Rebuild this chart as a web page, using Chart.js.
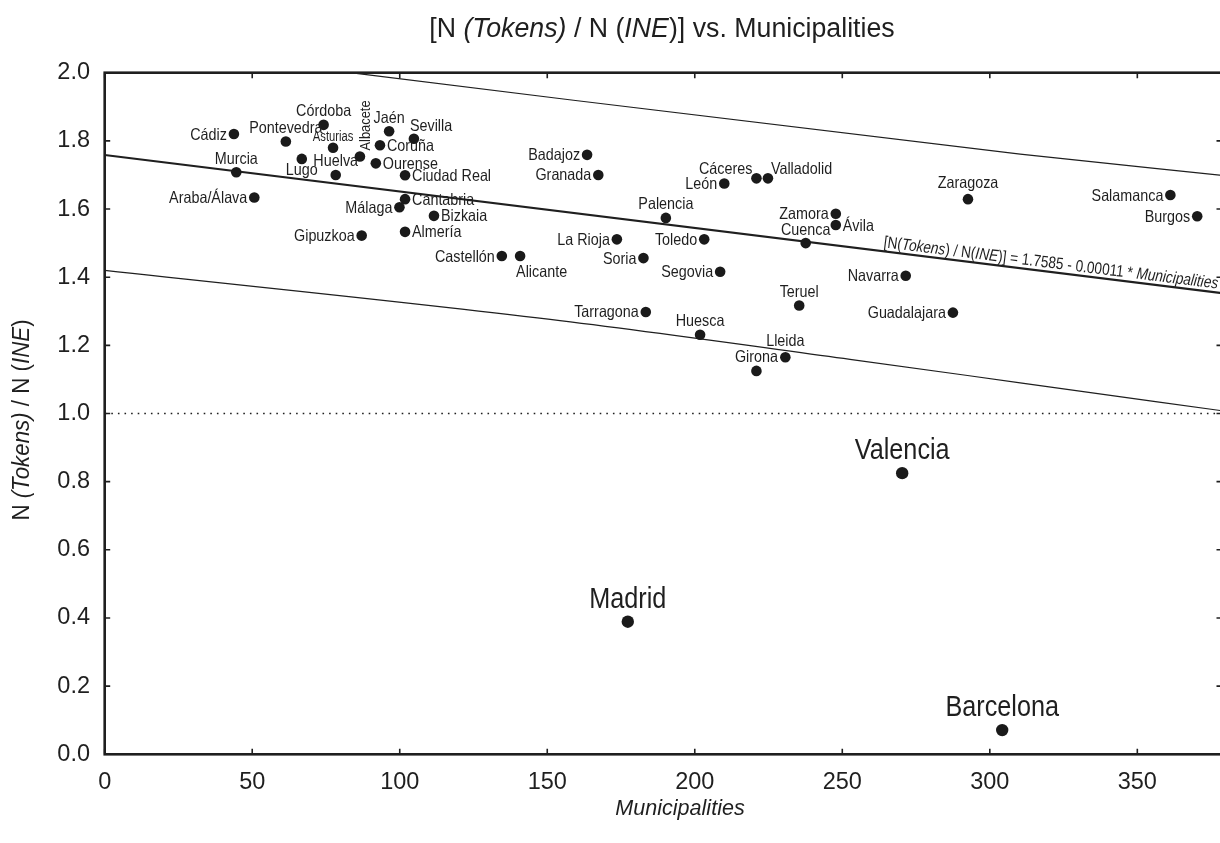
<!DOCTYPE html>
<html><head><meta charset="utf-8">
<script src="https://cdn.jsdelivr.net/npm/chart.js@4.4.1/dist/chart.umd.min.js"></script>
<style>
html,body{margin:0;padding:0;background:#fff;overflow:hidden;}
#wrap{width:1220px;height:843px;overflow:hidden;position:relative;background:#fff;}
canvas{display:block;}
</style></head><body>
<div id="wrap"><canvas id="c" width="1232" height="843"></canvas></div>
<script>
// ---------------- data ----------------
const provinces = ['Cádiz','Córdoba','Pontevedra','Asturias','Albacete','Jaén','Sevilla','Coruña','Ourense','Murcia','Lugo','Huelva','Ciudad Real','Araba/Álava','Cantabria','Málaga','Bizkaia','Almería','Gipuzkoa','Badajoz','Granada','León','Cáceres','Valladolid','Palencia','La Rioja','Toledo','Castellón','Alicante','Soria','Segovia','Tarragona','Zaragoza','Salamanca','Burgos','Zamora','Ávila','Cuenca','Navarra','Teruel','Guadalajara','Huesca','Lleida','Girona','Madrid','Valencia','Barcelona'];
const municipalities = [43.8,74.2,61.4,77.4,86.5,96.4,104.8,93.3,91.9,44.6,66.8,78.3,101.8,50.7,101.8,99.9,111.6,101.8,87.1,163.5,167.3,210.0,220.9,224.8,190.2,173.6,203.2,134.6,140.8,182.6,208.6,183.4,292.6,361.2,370.3,247.8,247.8,237.6,271.5,235.4,287.5,201.8,230.7,220.9,177.3,270.3,304.2];
const ratio = [1.820,1.847,1.798,1.780,1.754,1.828,1.806,1.787,1.734,1.708,1.747,1.700,1.699,1.634,1.629,1.605,1.580,1.533,1.522,1.759,1.700,1.675,1.690,1.690,1.574,1.511,1.511,1.462,1.462,1.456,1.416,1.298,1.629,1.641,1.579,1.586,1.553,1.500,1.404,1.317,1.296,1.231,1.165,1.125,0.389,0.825,0.071];
const labelPlace = ['L','T','T','Ts','V','T','TR','R','R','T','B','T','R','L','R','L','R','R','L','L','L','L','TL','TRc','T','L','L','L','BR','L','L','L','Th','L','L','L','R','T','L','T','L','T','Th','T','T','T','T'];
const bigCities = ['Madrid','Valencia','Barcelona'];

// regression line and band
const fitX = [0, 378.7];
const fitY = [1.7585, 1.353];
const upperBandX = [83.2, 310.3, 378.7];
const upperBandY = [2.0, 1.761, 1.699];
const lowerBandX = [0, 151, 252.6, 310.3, 378.7];
const lowerBandY = [1.420, 1.276, 1.159, 1.090, 1.008];
const refX = [0, 378.7];
const refY = [1.0, 1.0];

const xMin = 0, xMax = 378.7, xStep = 50;
const yMin = 0, yMax = 2.0, yStep = 0.2;

const titleParts = [['[N ', false], ['(Tokens)', true], [' / N (', false], ['INE', true], [')] vs. Municipalities', false]];
const yTitleParts = [['N ', false], ['(Tokens)', true], [' / N (', false], ['INE', true], [')', false]];
const xTitleText = 'Municipalities';
const eqParts = [['[N(', false], ['Tokens', true], [') / N(', false], ['INE', true], [')] = 1.7585 - 0.00011 * ', false], ['Municipalities', true]];

// ---------------- helpers ----------------
const FONT = "'Liberation Sans', Arial, Helvetica, sans-serif";
const INK = '#1f1f1f';
function fontStr(size, italic){ return (italic ? 'italic ' : '') + size + 'px ' + FONT; }
function richText(ctx, segs, x, y, o){
  ctx.save();
  ctx.translate(x, y);
  if (o.rotate) ctx.rotate(o.rotate);
  ctx.scale(o.scaleX || 1, 1);
  ctx.textBaseline = o.baseline || 'middle';
  ctx.textAlign = 'left';
  ctx.fillStyle = o.color || INK;
  const ws = []; let total = 0;
  segs.forEach(s => { ctx.font = fontStr(o.size, s[1]); const w = ctx.measureText(s[0]).width; ws.push(w); total += w; });
  let cx = o.align === 'center' ? -total/2 : (o.align === 'right' ? -total : 0);
  segs.forEach((s, i) => { ctx.font = fontStr(o.size, s[1]); ctx.fillText(s[0], cx, 0); cx += ws[i]; });
  ctx.restore();
}

const PLACE = {
  L:   {dx:-7,  dy:1,    align:'right'},
  R:   {dx:7,   dy:1,    align:'left'},
  T:   {dx:0,   dy:-13,  align:'center'},
  Th:  {dx:0,   dy:-16,  align:'center'},
  B:   {dx:0,   dy:12,   align:'center'},
  TR:  {dx:-4,  dy:-12.5,align:'left'},
  TRc: {dx:3,   dy:-9,   align:'left'},
  TL:  {dx:-4,  dy:-9,   align:'right'},
  BR:  {dx:-4,  dy:16,   align:'left'},
  Ts:  {dx:0,   dy:-11,  align:'center', size:14, sx:0.8},
  V:   {dx:6.5, dy:-6,   align:'left', size:14, sx:0.92, rotate:-Math.PI/2}
};

const decorPlugin = {
  id: 'decor',
  afterDatasetsDraw(chart){
    const ctx = chart.ctx, a = chart.chartArea, xs = chart.scales.x, ys = chart.scales.y;
    ctx.save();
    ctx.strokeStyle = INK; ctx.lineWidth = 2.6;
    ctx.strokeRect(a.left, a.top, a.right - a.left, a.bottom - a.top);
    ctx.lineWidth = 1.6;
    ctx.beginPath();
    xs.ticks.forEach(t => { const px = xs.getPixelForValue(t.value);
      ctx.moveTo(px, a.bottom); ctx.lineTo(px, a.bottom - 5.5);
      ctx.moveTo(px, a.top); ctx.lineTo(px, a.top + 5.5); });
    ys.ticks.forEach(t => { const py = ys.getPixelForValue(t.value);
      ctx.moveTo(a.left, py); ctx.lineTo(a.left + 5.5, py);
      ctx.moveTo(a.right, py); ctx.lineTo(a.right - 5.5, py); });
    ctx.stroke();
    ctx.restore();

    const meta = chart.getDatasetMeta(0);
    meta.data.forEach((el, i) => {
      const name = provinces[i];
      const p = PLACE[labelPlace[i]];
      const big = bigCities.includes(name);
      const size = big ? 29 : (p.size || 16.5);
      const sx = big ? 0.87 : (p.sx || 0.87);
      const dy = big ? -22 : p.dy;
      richText(ctx, [[name, false]], el.x + p.dx, el.y + dy, {size, scaleX: sx, align: p.align, rotate: p.rotate});
    });

    const endPx = 1217;
    const vEnd = xs.getValueForPixel(endPx);
    const t = (vEnd - fitX[0]) / (fitX[1] - fitX[0]);
    const yEnd = ys.getPixelForValue(fitY[0] + t * (fitY[1] - fitY[0]));
    const p0x = xs.getPixelForValue(fitX[0]), p0y = ys.getPixelForValue(fitY[0]);
    const p1x = xs.getPixelForValue(fitX[1]), p1y = ys.getPixelForValue(fitY[1]);
    const ang = Math.atan2(p1y - p0y, p1x - p0x);
    ctx.save();
    ctx.translate(endPx, yEnd);
    ctx.rotate(ang);
    richText(ctx, eqParts, 0, -4, {size: 16.5, scaleX: 0.83, align: 'right', baseline: 'alphabetic'});
    ctx.restore();

    richText(ctx, titleParts, 662, 29.5, {size: 27, scaleX: 0.99, align: 'center'});
    richText(ctx, yTitleParts, 23, 420, {size: 23, scaleX: 0.97, align: 'center', rotate: -Math.PI/2});
    richText(ctx, [[xTitleText, true]], 680, 809, {size: 22, scaleX: 0.98, align: 'center'});
  }
};

const pts = municipalities.map((m, i) => ({x: m, y: ratio[i]}));
const toXY = (xs, ys) => xs.map((v, i) => ({x: v, y: ys[i]}));

new Chart(document.getElementById('c'), {
  type: 'scatter',
  data: {
    datasets: [
      { label: 'Provinces', data: pts,
        pointRadius: provinces.map(n => bigCities.includes(n) ? 6.2 : 5.3),
        pointBackgroundColor: '#1a1a1a', pointBorderWidth: 0, clip: false },
      { type: 'line', label: 'fit', data: toXY(fitX, fitY), borderColor: INK, borderWidth: 2.2, pointRadius: 0, fill: false },
      { type: 'line', label: 'upper', data: toXY(upperBandX, upperBandY), borderColor: INK, borderWidth: 1.2, pointRadius: 0, fill: false, cubicInterpolationMode: 'monotone' },
      { type: 'line', label: 'lower', data: toXY(lowerBandX, lowerBandY), borderColor: INK, borderWidth: 1.2, pointRadius: 0, fill: false, cubicInterpolationMode: 'monotone' },
      { type: 'line', label: 'ref', data: toXY(refX, refY), borderColor: INK, borderWidth: 1.6, borderDash: [1.6, 5], pointRadius: 0, fill: false }
    ]
  },
  options: {
    responsive: false,
    animation: false,
    devicePixelRatio: 1,
    events: [],
    layout: { padding: { top: 72.7, right: 10, left: 0, bottom: 0 } },
    plugins: { legend: { display: false }, tooltip: { enabled: false }, title: { display: false } },
    scales: {
      x: {
        type: 'linear', min: xMin, max: xMax,
        grid: { display: false, drawTicks: false, tickLength: 0 },
        border: { display: false },
        ticks: { stepSize: xStep, includeBounds: false, padding: 14.3, color: INK, font: { family: FONT, size: 23.5 }, maxRotation: 0, autoSkip: false },
        afterFit(s){ s.height = 843 - 754.3; }
      },
      y: {
        type: 'linear', min: yMin, max: yMax,
        grid: { display: false, drawTicks: false, tickLength: 0 },
        border: { display: false },
        ticks: { stepSize: yStep, padding: 14.7, color: INK, font: { family: FONT, size: 23.5 }, callback: v => Number(v).toFixed(1) },
        afterFit(s){ s.width = 104.7; }
      }
    }
  },
  plugins: [decorPlugin]
});
</script>
</body></html>
